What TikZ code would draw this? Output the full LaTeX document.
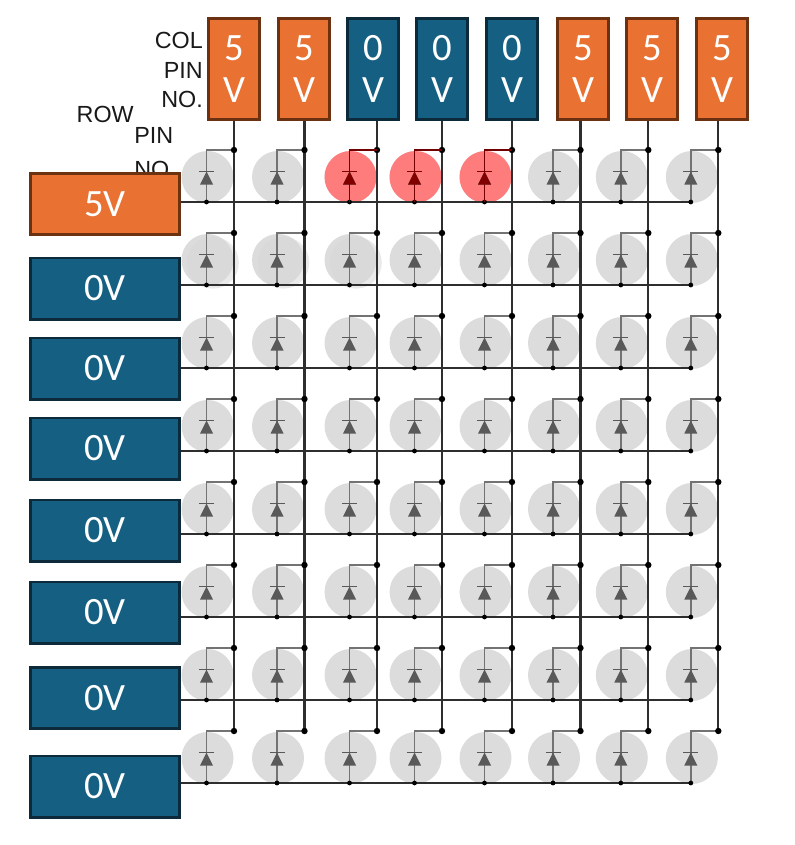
\documentclass[tikz,border=0pt]{standalone}
\usepackage{fontspec}
\setmainfont{Liberation Sans}
\newfontfamily\voltfont{Carlito}
\usetikzlibrary{positioning}
\definecolor{hiorange}{HTML}{E97132}
\definecolor{hiedge}{HTML}{6B3110}
\definecolor{lowblue}{HTML}{156082}
\definecolor{lowedge}{HTML}{0C2A3A}
\definecolor{ledoff}{HTML}{D6D6D6}
\definecolor{ledon}{HTML}{FF7C7C}
\definecolor{wire}{HTML}{2E2E2E}

\begin{document}
\begin{tikzpicture}[
    x=0.75pt, y=-0.75pt,
    colbox/.style={draw, line width=2.2pt, minimum width=38.3pt, minimum height=75.8pt, inner sep=0pt, align=center, text=white, font=\voltfont\fontsize{29}{32}\selectfont},
    rowbox/.style={draw, line width=2.2pt, minimum width=111.8pt, minimum height=45.8pt, inner sep=0pt, text=white, font=\voltfont\fontsize{29}{32}\selectfont},
    hi/.style={fill=hiorange, draw=hiedge},
    lo/.style={fill=lowblue, draw=lowedge},
    ledglow/.style={circle, minimum size=39pt, inner sep=0pt, fill=ledoff, fill opacity=0.85},
    bus/.style={draw=wire, line width=1.7pt},
    lead/.style={draw=black!55, line width=1.4pt},
    pinlabel/.style={font=\fontsize{17.5}{22}\selectfont, inner sep=0pt, text=black!90},
    pics/diodesym/.style={code={
        \fill (-6.5,6.5) -- (6.5,6.5) -- (0,-6.5) -- cycle;
        \draw[line width=1.4pt] (-7.5,-6.5) -- (7.5,-6.5);}}
  ]
    \useasboundingbox (0,0) rectangle (794,845);

    % pin labels
    \node[pinlabel, align=right, anchor=east] (collabel) at (203,70) {COL\\PIN\\NO.};
    \node[pinlabel, anchor=east] (rowlabel) at (134,114) {ROW};
    \node[pinlabel, align=left, anchor=north west] (rowpin) at (134,127) {PIN\\[4pt]NO};

    % LED cells
    \foreach \c/\wx in {1/234,2/304.5,3/377,4/442,5/512,6/580.5,7/648.3,8/718.3}
      \foreach \r in {1,...,8} {
        \pgfmathsetmacro\ty{150+83*(\r-1)}
        \coordinate (j\r-\c) at (\wx,\ty);
        \coordinate (k\r-\c) at (\wx-27.5,\ty+52);
        \node[ledglow] (led\r-\c) at (\wx-26.5,\ty+27) {};
      }
    \foreach \c in {1,2,3}
      \node[ledglow, fill opacity=0.5] (ghost\c) at ([xshift=4pt,yshift=-2pt]led2-\c) {};
    \foreach \c in {3,4,5}
      \node[ledglow, fill=ledon, fill opacity=1] (lit\c) at (led1-\c) {};

    % drivers
    \foreach \c/\bx/\v/\s in {1/234/5/hi,2/304/5/hi,3/373/0/lo,4/442/0/lo,5/512/0/lo,6/583/5/hi,7/652/5/hi,8/722/5/hi}
      \node[colbox, \s] (col\c) at (\bx,69) {\v\\V};
    \foreach \r/\by/\v/\s in {1/204/5/hi,2/288.5/0/lo,3/368.5/0/lo,4/448.5/0/lo,5/530.5/0/lo,6/612.5/0/lo,7/698/0/lo,8/786.5/0/lo}
      \node[rowbox, \s] (row\r) at (105,\by) {\v V};

    % buses
    \foreach \c in {1,...,8}
      \draw[bus] (col\c.south -| j1-\c) -- (j8-\c);
    \foreach \r in {1,...,8}
      \draw[bus] (row\r.east |- k\r-1) -- (k\r-8);

    % leads and diodes
    \foreach \c in {1,...,8}
      \foreach \r in {1,...,8} {
        \draw[lead] (j\r-\c) -| (k\r-\c);
        \pic[black!65] at ([yshift=18pt]k\r-\c) {diodesym};
        \fill (j\r-\c) circle[radius=3.2];
        \fill (k\r-\c) circle[radius=2.4];
      }
    \foreach \c in {3,4,5} {
      \draw[lead, draw=red!45!black] (j1-\c) -| (k1-\c);
      \pic[red!50!black] at ([yshift=18pt]k1-\c) {diodesym};
    }
\end{tikzpicture}
\end{document}
